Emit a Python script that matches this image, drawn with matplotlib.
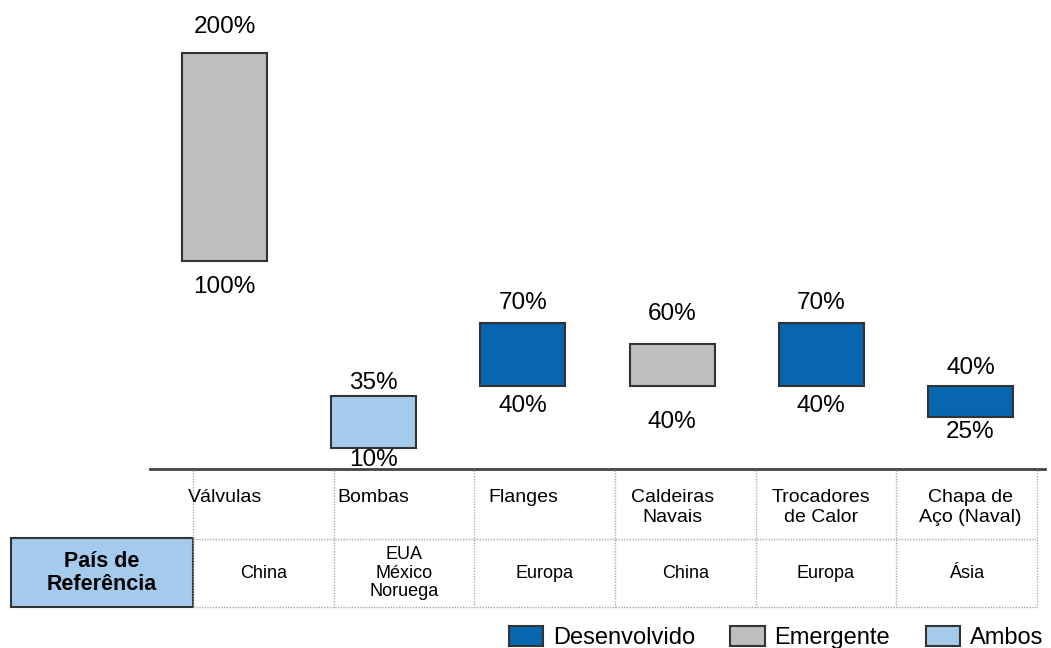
import matplotlib.pyplot as plt
from matplotlib.patches import Patch, Rectangle

plt.rcParams['font.family'] = ['Liberation Sans', 'DejaVu Sans']

categories = ['Válvulas', 'Bombas', 'Flanges', 'Caldeiras\nNavais',
              'Trocadores\nde Calor', 'Chapa de\nAço (Naval)']
low = [100, 10, 40, 40, 40, 25]
high = [200, 35, 70, 60, 70, 40]
group = ['Emergente', 'Ambos', 'Desenvolvido', 'Emergente', 'Desenvolvido', 'Desenvolvido']
countries = ['China', 'EUA\nMéxico\nNoruega', 'Europa', 'China', 'Europa', 'Ásia']

colors = {'Desenvolvido': '#0866AE', 'Emergente': '#BEBEBE', 'Ambos': '#A5CBEC'}
edge = '#333333'

W, H = 1051, 648
fig = plt.figure(figsize=(W / 100, H / 100), dpi=100)

# bars axes: x from 150 to 1045 px, zero at y=469 px, 2.08 px per %
ax = fig.add_axes([150 / W, (H - 469) / H, 895 / W, 457.6 / H])
ax.set_xlim(-0.5, 5.5)
ax.set_ylim(0, 220)
ax.axis('off')

x = list(range(len(categories)))
ax.bar(x, [h - l for h, l in zip(high, low)], bottom=low, width=0.57,
       color=[colors[g] for g in group], edgecolor=edge, linewidth=1.5)

# label distance (points) from bar edge to label centre
top_off = [19, 9.5, 14.5, 21.5, 14.5, 13]
bot_off = [18.5, 8.5, 14.5, 26, 14.5, 11]
for i in x:
    ax.annotate(f'{high[i]}%', (i, high[i]), xytext=(0, top_off[i]),
                textcoords='offset points', ha='center', va='center', fontsize=17.5)
    ax.annotate(f'{low[i]}%', (i, low[i]), xytext=(0, -bot_off[i]),
                textcoords='offset points', ha='center', va='center', fontsize=17.5)

# table drawn in pixel coordinates
tax = fig.add_axes([0, 0, 1, 1])
tax.set_xlim(0, W)
tax.set_ylim(H, 0)
tax.axis('off')

tax.plot([150, 1045], [469, 469], color='#444444', lw=2)
edges = [193 + k * (1037 - 193) / 6 for k in range(7)]
grid = dict(color='#AAAAAA', lw=1, ls=(0, (1, 1)))
for e in edges:
    tax.plot([e, e], [470, 607], **grid)
tax.plot([193, 1037], [539, 539], **grid)
tax.plot([193, 1037], [607, 607], **grid)

for i, cat in enumerate(categories):
    cx = 150 + (i + 0.5) * 895 / 6
    tax.text(cx, 489, cat, ha='center', va='top', fontsize=14, linespacing=1.2)
    tx = (edges[i] + edges[i + 1]) / 2
    tax.text(tx, 573, countries[i], ha='center', va='center', fontsize=13,
             linespacing=1.1)

tax.add_patch(Rectangle((11, 538), 182, 69, facecolor='#A5CBEC',
                        edgecolor=edge, lw=1.5))
tax.text(102, 573, 'País de\nReferência', ha='center', va='center',
         fontsize=15.5, fontweight='bold', linespacing=1.15)

handles = [Patch(facecolor=colors[k], edgecolor=edge, lw=1.5, label=k)
           for k in ['Desenvolvido', 'Emergente', 'Ambos']]
fig.legend(handles=handles, loc='lower right', bbox_to_anchor=(1.006, -0.024),
           ncol=3, frameon=False, fontsize=17, handlelength=1.45,
           handleheight=0.95, handletextpad=0.42, columnspacing=1.5,
           borderaxespad=0.2)

fig.savefig('out.png', dpi=100)
